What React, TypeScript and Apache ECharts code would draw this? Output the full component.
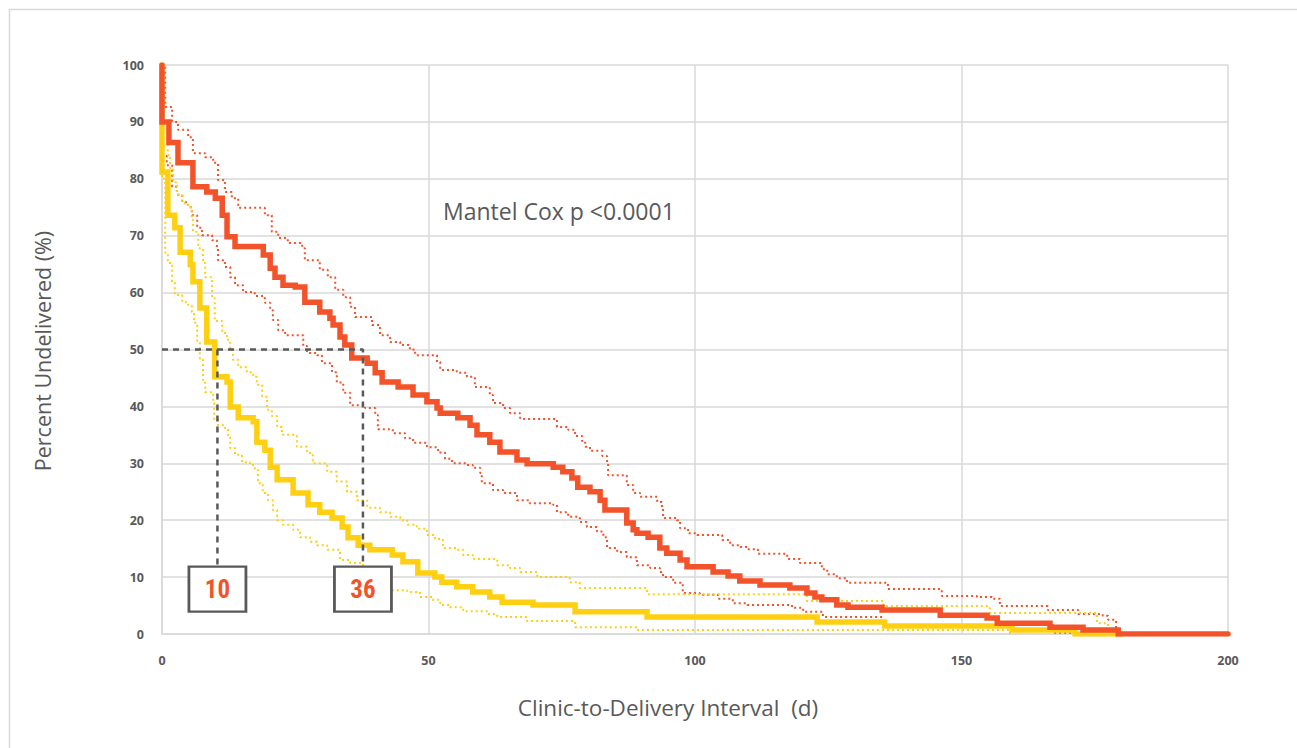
import React, { useEffect, useRef } from "react";
import * as echarts from "echarts";

type P = [number, number];

// Kaplan-Meier step points [day, percent undelivered]
const orangeMain: P[] = [
  [0, 100], [0, 90], [1.3, 86.4], [3.0, 82.8], [5.8, 78.6], [8.4, 77.7], [10, 76.6], [11.3, 73.6],
  [12.2, 69.8], [13.7, 68.1], [19.0, 66.6], [20.3, 64.3], [21.2, 62.7], [22.7, 61.3], [25.0, 61.0],
  [26.8, 58.3], [29.6, 56.6], [31.5, 55.5], [32.1, 54.3], [33.4, 52.2], [34.3, 50.8], [35.6, 48.5],
  [38.5, 47.6], [40.0, 45.9], [41.3, 44.3], [44.3, 43.4], [47.1, 42.0], [49.7, 40.8], [51.6, 39.7],
  [52.2, 38.8], [55.5, 38.0], [57.8, 36.7], [59.1, 35.0], [61.5, 33.7], [63.4, 32.0], [66.6, 30.6],
  [68.5, 29.9], [73.4, 29.3], [75.2, 28.5], [76.9, 27.4], [78.0, 25.8], [80.3, 25.0], [82.2, 23.5],
  [83.1, 21.8], [87.2, 19.5], [88.4, 18.3], [89.1, 17.7], [91.2, 17.0], [93.4, 15.1], [94.7, 14.2],
  [97.2, 13.0], [98.5, 11.8], [103.4, 10.9], [106.2, 10.2], [108.4, 9.3], [112.2, 8.6], [117.8, 8.1],
  [121.0, 7.2], [122.5, 6.5], [123.8, 6.0], [126.6, 5.1], [128.7, 4.7], [135.1, 4.2], [146.0, 3.3],
  [154.8, 2.8], [156.7, 1.9], [166.6, 1.2], [172.8, 0.7], [179.4, 0], [200, 0],
];

const orangeUpper: P[] = [
  [0, 100], [0.6, 92.6], [1.9, 90.0], [3.0, 88.6], [4.9, 87.3], [5.8, 84.5], [8.1, 83.8], [9.6, 82.8],
  [10.5, 79.8], [11.8, 77.7], [13.1, 76.6], [14.3, 74.9], [19.3, 73.6], [20.6, 70.7], [21.8, 69.6],
  [23.6, 68.7], [26.3, 67.8], [26.8, 65.7], [29.6, 64.0], [31.1, 62.7], [32.5, 60.5], [34.0, 59.2],
  [35.3, 57.5], [36.2, 55.7], [39.4, 54.3], [40.9, 52.5], [42.8, 51.3], [44.7, 50.8], [46.5, 50.0],
  [47.5, 49.0], [51.6, 47.8], [52.2, 46.4], [55.3, 45.9], [57.2, 45.2], [58.7, 43.4], [61.5, 42.0],
  [62.1, 40.6], [64.0, 39.7], [65.3, 38.8], [67.2, 37.8], [74.1, 36.4], [76.2, 35.9], [77.5, 34.8],
  [78.8, 33.9], [79.4, 32.9], [80.3, 32.2], [82.6, 31.3], [83.5, 30.0], [83.7, 27.9], [87.2, 26.2],
  [88.4, 24.8], [89.7, 24.1], [92.9, 23.2], [93.8, 22.3], [94.0, 20.4], [96.6, 20.0], [97.2, 18.6],
  [98.7, 17.7], [100.4, 17.4], [105.1, 16.5], [106.6, 15.6], [108.4, 15.3], [109.8, 14.9], [111.8, 14.1],
  [117.3, 13.2], [119.7, 12.5], [123.8, 11.4], [124.8, 10.5], [126.6, 9.8], [128.5, 9.0], [136.2, 7.9],
  [146.3, 6.7], [152.9, 6.5], [155.7, 6.2], [157.2, 4.9], [166.2, 4.2], [171.9, 3.5], [176.5, 3.2],
  [177.5, 2.5], [179.0, 0],
];

const orangeLower: P[] = [
  [0, 100], [0, 84], [0.9, 82.4], [1.9, 78.6], [2.8, 77.2], [3.8, 75.9], [4.9, 75.0], [5.6, 73.6],
  [6.6, 71.4], [7.5, 70.1], [9.4, 69.2], [10.3, 67.8], [10.5, 65.7], [11.8, 64.5], [12.8, 62.7],
  [13.7, 61.3], [15.2, 60.1], [17.4, 59.4], [19.3, 58.2], [20.3, 56.9], [20.8, 55.2], [21.8, 53.4],
  [23.1, 52.5], [26.5, 50.6], [27.2, 49.4], [29.1, 49.0], [30.0, 47.6], [31.9, 46.0], [32.8, 44.2],
  [34.0, 42.4], [35.3, 40.2], [38.1, 39.7], [40.0, 38.5], [40.5, 36.0], [43.3, 35.3], [45.6, 34.4],
  [47.1, 33.6], [49.7, 32.8], [51.8, 31.9], [53.1, 30.8], [54.4, 30.0], [57.2, 29.7], [58.3, 29.2],
  [59.7, 28.3], [60.0, 26.5], [62.1, 25.3], [64.0, 24.8], [66.6, 23.5], [69.0, 23.0], [73.4, 22.7],
  [74.1, 21.4], [76.2, 20.6], [78.4, 19.7], [79.7, 18.8], [81.6, 18.0], [82.8, 17.0], [83.5, 15.1],
  [85.4, 14.4], [87.2, 13.5], [89.1, 12.1], [91.6, 11.6], [93.4, 10.9], [94.0, 10.0], [95.9, 9.0],
  [97.7, 7.2], [100.9, 6.9], [104.3, 6.2], [107.1, 5.4], [109.8, 5.1], [118.2, 4.6], [120.3, 3.9],
  [124.0, 3.0], [135.1, 1.6], [167.2, 0.2], [171.3, 0],
];

const yellowMain: P[] = [
  [0, 100], [0, 89.5], [0, 81.2], [1.1, 73.6], [2.4, 71.4], [3.4, 67.1], [5.3, 64.9], [5.8, 61.9],
  [7.1, 57.3], [8.4, 51.3], [9.9, 45.2], [12.2, 44.3], [12.8, 39.9], [14.3, 38.0], [17.1, 37.3],
  [17.8, 33.7], [19.3, 32.3], [20.3, 29.3], [21.6, 27.1], [24.6, 24.8], [27.4, 22.7], [29.6, 21.4],
  [31.9, 20.4], [33.8, 18.8], [34.9, 16.9], [36.8, 15.6], [39.0, 14.8], [43.2, 13.9], [45.2, 12.7],
  [48.0, 10.7], [51.2, 10.0], [52.5, 9.1], [55.3, 8.3], [58.3, 7.4], [61.5, 6.5], [63.8, 5.6],
  [69.6, 5.1], [77.5, 3.9], [91.0, 3.0], [122.9, 2.1], [135.6, 1.4], [159.5, 0.7], [171.3, 0], [180, 0],
];

const yellowUpper: P[] = [
  [0, 100], [0, 86], [1.1, 84.2], [1.5, 81.9], [2.1, 79.4], [2.8, 77.2], [3.8, 75.7], [4.9, 75.0],
  [5.6, 73.1], [5.8, 70.7], [6.8, 67.8], [7.7, 65.2], [8.1, 62.7], [9.4, 59.0], [9.9, 55.0], [11.3, 52.9],
  [12.2, 51.7], [12.8, 50.0], [13.3, 48.2], [14.3, 46.9], [15.9, 46.0], [17.1, 45.2], [17.8, 43.8],
  [18.8, 41.7], [19.7, 39.4], [20.6, 38.3], [21.6, 36.4], [22.5, 35.0], [25.3, 32.9], [27.2, 31.8],
  [28.3, 30.0], [31.0, 28.5], [32.8, 26.8], [34.7, 25.0], [36.6, 23.5], [38.5, 22.2], [40.9, 21.4],
  [42.8, 20.6], [44.7, 20.0], [46.0, 19.2], [47.8, 18.5], [49.7, 17.4], [51.2, 16.7], [52.7, 15.1],
  [55.3, 14.8], [56.5, 13.9], [58.3, 13.2], [62.9, 12.1], [65.3, 11.6], [67.2, 10.9], [70.4, 10.0],
  [76.5, 9.1], [78.4, 8.1], [91.0, 7.0], [121.0, 5.8], [135.3, 4.9], [155.3, 3.7], [175.4, 1.9], [177.5, 0],
];

const yellowLower: P[] = [
  [0, 100], [0, 80], [0.6, 67.0], [1.1, 65.2], [1.9, 61.9], [2.4, 59.6], [3.8, 58.3], [4.9, 57.8],
  [5.6, 56.6], [6.0, 54.7], [6.6, 51.5], [7.1, 48.2], [7.7, 44.6], [8.1, 42.5], [9.6, 40.6], [9.8, 37.6],
  [10.5, 36.7], [11.8, 36.2], [12.4, 34.6], [12.8, 32.7], [13.7, 31.5], [15.0, 30.2], [16.5, 29.7],
  [17.4, 28.8], [18.0, 26.5], [18.9, 24.8], [19.9, 23.5], [20.8, 21.8], [21.6, 20.0], [22.7, 19.2],
  [24.6, 18.3], [25.9, 17.0], [27.8, 16.2], [29.1, 15.6], [31.0, 14.8], [33.4, 13.0], [35.3, 12.5],
  [37.7, 11.2], [40.3, 9.0], [42.2, 7.7], [46.0, 7.4], [48.4, 6.5], [50.7, 6.0], [52.2, 5.1], [54.0, 4.7],
  [56.5, 4.0], [61.0, 3.5], [62.9, 3.0], [68.5, 2.3], [77.5, 1.2], [89.1, 0.7], [159.1, 0],
];

// median markers
const medianHorizontal: P[] = [[0, 50], [37.7, 50], [37.7, 12]];
const medianVertical: P[] = [[10.4, 50], [10.4, 12]];
const medianBoxes: P[] = [[10.4, 7.9], [37.7, 7.9]];
const medianLabels = ["10", "36"];

const xTicks = { min: 0, max: 200, interval: 50 };
const yTicks = { min: 0, max: 100, interval: 10 };

const ORANGE = "#F2532A";
const YELLOW = "#FFD012";
const GREY = "#595959";
const GRID = "#D9D9D9";
const FONT = "'Open Sans', 'Noto Sans', sans-serif";

export default function App() {
  const ref = useRef<HTMLDivElement>(null);
  useEffect(() => {
    if (!ref.current) return;
    const chart = echarts.init(ref.current, null, { renderer: "svg" });
    const dotted = (name: string, data: P[], color: string) => ({
      name,
      type: "line",
      step: "end",
      data,
      showSymbol: false,
      lineStyle: { color, width: 2, type: [2, 3] },
      z: 2,
    });
    const solid = (name: string, data: P[], color: string, z: number) => ({
      name,
      type: "line",
      step: "end",
      data,
      showSymbol: false,
      lineStyle: { color, width: 5.5, cap: "round", join: "miter" },
      z,
    });
    chart.setOption({
      animation: false,
      backgroundColor: "#fff",
      grid: { left: 162, top: 65, width: 1066, height: 569, containLabel: false },
      xAxis: {
        type: "value",
        ...xTicks,
        axisLine: { show: true, lineStyle: { color: GRID, width: 1.5 } },
        axisTick: { show: false },
        splitLine: { show: true, lineStyle: { color: GRID, width: 1.5 } },
        axisLabel: { color: GREY, fontWeight: "bold", fontSize: 12.5, fontFamily: FONT, margin: 20 },
      },
      yAxis: {
        type: "value",
        ...yTicks,
        axisLine: { show: true, lineStyle: { color: GRID, width: 1.5 } },
        axisTick: { show: false },
        splitLine: { show: true, lineStyle: { color: GRID, width: 1.5 } },
        axisLabel: { color: GREY, fontWeight: "bold", fontSize: 12.5, fontFamily: FONT, margin: 18 },
      },
      graphic: [
        {
          type: "rect",
          left: 7,
          top: 7,
          shape: { width: 1320, height: 800 },
          style: { fill: "none", stroke: GRID, lineWidth: 1.5 },
          silent: true,
          z: -10,
        },
        {
          type: "text",
          x: 443,
          y: 211,
          style: {
            text: "Mantel Cox p <0.0001",
            fill: GREY,
            fontSize: 23,
            fontFamily: FONT,
            align: "left",
            verticalAlign: "middle",
          },
        },
        {
          type: "text",
          x: 668,
          y: 707,
          style: {
            text: "Clinic-to-Delivery Interval  (d)",
            fill: GREY,
            fontSize: 22.5,
            fontFamily: FONT,
            align: "center",
            verticalAlign: "middle",
          },
        },
        {
          type: "text",
          x: 42,
          y: 351,
          rotation: Math.PI / 2,
          style: {
            text: "Percent Undelivered (%)",
            fill: GREY,
            fontSize: 21.5,
            fontFamily: FONT,
            align: "center",
            verticalAlign: "middle",
          },
        },
      ],
      series: [
        dotted("orangeUpper", orangeUpper, ORANGE),
        dotted("orangeLower", orangeLower, ORANGE),
        dotted("yellowUpper", yellowUpper, YELLOW),
        dotted("yellowLower", yellowLower, YELLOW),
        solid("yellowMain", yellowMain, YELLOW, 3),
        solid("orangeMain", orangeMain, ORANGE, 4),
        {
          type: "line",
          data: medianHorizontal,
          showSymbol: false,
          lineStyle: { color: GREY, width: 2.5, type: [6, 5] },
          z: 5,
        },
        {
          type: "line",
          data: medianVertical,
          showSymbol: false,
          lineStyle: { color: GREY, width: 2.5, type: [6, 5] },
          z: 5,
        },
        {
          type: "scatter",
          data: medianBoxes,
          symbol: "rect",
          symbolSize: [57, 45],
          itemStyle: { color: "#fff", borderColor: GREY, borderWidth: 2.5, opacity: 1 },
          label: {
            show: true,
            position: "inside",
            formatter: (p: any) => medianLabels[p.dataIndex],
            color: ORANGE,
            opacity: 1,
            fontSize: 25,
            fontWeight: "bold",
            fontFamily: "'Liberation Sans Narrow', 'Roboto Condensed', 'Roboto', sans-serif",
          },
          z: 6,
        },
      ],
    });
    return () => chart.dispose();
  }, []);
  return (
    <div
      ref={ref}
      style={{ position: "fixed", left: 0, top: 0, width: 1297, height: 748, background: "#fff" }}
    />
  );
}
